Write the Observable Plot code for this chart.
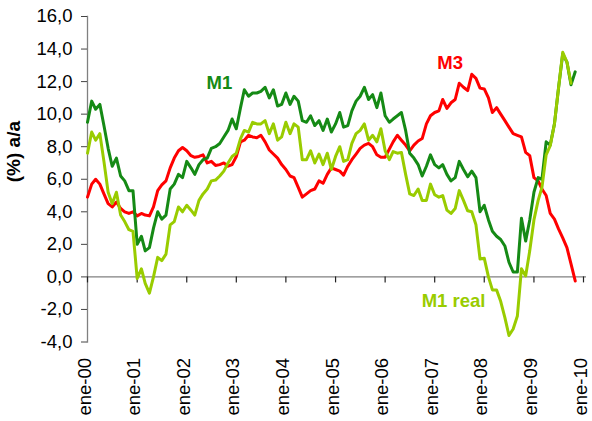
<!DOCTYPE html>
<html>
<head>
<meta charset="utf-8">
<script src="https://cdn.jsdelivr.net/npm/d3@7"></script>
<script src="https://cdn.jsdelivr.net/npm/@observablehq/plot@0.6"></script>
<style>
  html, body { margin: 0; padding: 0; background: #fff; }
  #chart svg { font-family: "Liberation Sans", Arial, sans-serif; }
</style>
</head>
<body>
<div id="chart"></div>
<script>
// Monthly series, starting January 2000
const startYear = 2000;
const m1 = [
  9.5, 10.8, 10.3, 10.6, 9.3, 7.9, 6.8, 7.3, 6.2, 5.9, 5.3, 5.3,
  2.0, 2.5, 1.6, 1.8, 3.0, 4.0, 3.55, 3.8, 5.4, 5.7, 6.3, 6.1,
  7.1, 6.7, 6.3, 6.9, 7.2, 7.3, 7.9, 8.0, 8.2, 8.6, 9.0, 9.7,
  9.1, 10.4, 11.5, 11.1, 11.3, 11.3, 11.4, 11.65, 11.0, 11.5, 10.5, 10.6,
  11.3, 10.6, 11.1, 10.8, 9.6, 9.5, 9.9, 9.3, 9.6, 9.0, 9.7, 8.9,
  9.4, 10.1, 9.2, 9.3, 10.2, 10.8, 11.1, 11.65, 10.9, 11.2, 10.4, 11.3,
  9.9, 9.5, 9.7, 9.9, 10.1, 9.0, 7.6, 7.3, 6.9, 6.2, 6.8, 7.5,
  6.9, 6.7, 6.9, 6.3, 5.9, 6.1, 7.1, 6.6, 6.15, 6.5, 6.1, 4.0,
  4.4, 3.5, 2.8, 2.5, 2.3, 1.9, 0.9, 0.3, 0.3, 3.6, 2.2, 3.5,
  5.2, 6.1, 6.0, 8.3, 8.1, 9.4, 11.6, 13.7, 13.2, 11.8, 12.6
];
const m1real = [
  7.6, 8.9, 8.4, 8.8, 7.1, 5.2, 4.5, 5.2, 3.8, 3.4, 2.9, 2.8,
  -0.1, 0.5, -0.4, -1.0, 0.0, 1.2, 1.0, 1.4, 3.2, 3.4, 4.3, 4.0,
  4.4, 4.1, 3.8, 4.7, 5.1, 5.4, 5.9, 5.95, 6.2, 6.5, 7.0, 7.4,
  7.6, 8.5, 9.0, 8.9, 9.5, 9.4, 9.4, 9.6, 8.8, 9.4, 8.4, 8.6,
  9.5, 8.8, 9.4, 9.2, 7.2, 7.2, 7.75, 7.0, 7.55, 6.9, 7.6, 6.6,
  7.4, 8.0, 7.1, 7.2, 8.2, 8.8, 9.0, 9.4, 8.4, 8.7, 8.3, 9.1,
  7.75, 7.2, 7.7, 7.6, 7.65, 6.3, 5.1, 5.0, 5.4, 4.7, 4.7, 5.7,
  5.05, 4.9, 5.0, 4.1, 3.9, 4.2, 5.3, 4.7, 4.06, 4.0, 3.2, 1.1,
  1.15, 0.0, -0.8, -0.8, -1.5, -2.5, -3.6, -3.2, -2.4, 0.5, 0.06, 1.6,
  3.5, 4.7, 5.5, 7.5, 8.06, 9.4, 11.6, 13.8, 13.2, 11.9
];
const m3 = [
  4.9, 5.7, 6.0, 5.7, 5.1, 4.5, 4.3, 4.6, 4.2, 4.0, 3.9, 4.0,
  3.75, 3.9, 3.8, 3.75, 4.3, 5.3, 5.65, 5.9, 6.7, 7.3, 7.75, 7.95,
  7.75, 7.45, 7.35, 7.4, 7.5, 7.0, 7.1, 6.85, 6.9, 7.0, 6.8, 6.9,
  7.4, 8.3, 8.4, 8.7, 8.6, 8.55, 8.7, 8.3, 7.8, 7.55, 7.3, 6.9,
  6.6, 6.2, 6.1, 5.5, 4.9, 5.1, 5.3, 5.4, 5.9, 5.75, 6.3, 6.7,
  6.6, 6.5, 6.25, 6.8, 7.2, 7.55, 7.9, 8.1, 8.2, 8.0, 7.5, 7.35,
  7.35, 7.85, 8.3, 8.7, 8.4, 8.1, 7.75, 8.1, 8.35, 8.5, 9.4, 9.9,
  10.1, 10.2, 10.9, 10.35, 10.7, 10.9, 11.9, 11.65, 11.45, 12.45, 12.2, 11.6,
  11.55, 11.0, 10.1, 10.4, 10.0, 9.6, 9.2, 8.8, 8.7, 8.6, 7.65, 7.45,
  6.1, 5.9, 5.4, 5.0, 3.9, 3.55, 2.95, 2.4, 1.8, 0.8, -0.25
];

const xTickLabels = ["ene-00","ene-01","ene-02","ene-03","ene-04","ene-05","ene-06","ene-07","ene-08","ene-09","ene-10"];
const yTicks = [-4, -2, 0, 2, 4, 6, 8, 10, 12, 14, 16];

const seriesNames = ["M3", "M1", "M1 real"];
const seriesColors = ["#ff0000", "#158a15", "#99cc00"];

// series labels (month index from Jan 2000, value)
const labelTexts = ["M1", "M3", "M1 real"];
const labelMonth = [31.9, 87.8, 88.6];
const labelValue = [11.9, 13.15, -1.5];
const labelColors = ["#158a15", "#ff0000", "#99cc00"];

const monthDate = (i) => {
  const whole = Math.floor(i);
  const d0 = d3.utcMonth.offset(new Date(Date.UTC(startYear, 0, 1)), whole);
  const d1 = d3.utcMonth.offset(d0, 1);
  return new Date(+d0 + (i - whole) * (d1 - d0));
};

const rows = [];
[[m3, "M3"], [m1, "M1"], [m1real, "M1 real"]].forEach(([arr, name]) => {
  arr.forEach((v, i) => rows.push({series: name, date: monthDate(i), value: v}));
});

const years = xTickLabels.map((_, i) => new Date(Date.UTC(startYear + i, 0, 1)));
const labels = labelTexts.map((t, i) => ({text: t, date: monthDate(labelMonth[i]), value: labelValue[i], color: labelColors[i]}));

const esLocale = d3.formatLocale({decimal: ",", thousands: ".", grouping: [3], currency: ["", " €"], minus: "-"});
const yFmt = esLocale.format(".1f");
const axisColor = "#808080";

const W = 592, H = 421, MT = 16, MB = 79.5;
const yDomain = [-4, 16];
const tickLenValue = 6 * (yDomain[1] - yDomain[0]) / (H - MT - MB); // 6px expressed in y units

const chart = Plot.plot({
  width: W,
  height: H,
  marginTop: MT,
  marginBottom: MB,
  marginLeft: 87,
  marginRight: 9,
  style: {fontFamily: "Liberation Sans, Arial, sans-serif", background: "#fff"},
  x: {type: "utc", domain: [years[0], years[years.length - 1]], axis: null},
  y: {domain: yDomain, axis: null},
  color: {domain: seriesNames, range: seriesColors},
  marks: [
    Plot.frame({anchor: "left", stroke: axisColor, strokeWidth: 1.3}),
    Plot.ruleY([0], {stroke: axisColor, strokeWidth: 1.3, insetRight: -3}),
    Plot.ruleX(years, {x: d => d, y1: 0, y2: -tickLenValue, stroke: "#222", strokeWidth: 1.2}),
    Plot.axisY({ticks: yTicks, tickSize: 6, tickPadding: 9, tickFormat: yFmt, fontSize: 18.5, stroke: "#444", fill: "#000", label: null}),
    Plot.text(years, {x: d => d, frameAnchor: "bottom", rotate: -90, textAnchor: "end", dy: 16, dx: 3,
      text: (d, i) => xTickLabels[i], fontSize: 18.5, fill: "#000"}),
    Plot.text(["(%) a/a"], {frameAnchor: "left", dx: -74, dy: 3, rotate: -90, fontWeight: "bold", fontSize: 19, fill: "#000"}),
    Plot.lineY(rows, {x: "date", y: "value", z: "series", stroke: "series", strokeWidth: 3, strokeLinejoin: "round"}),
    Plot.text(labels, {x: "date", y: "value", text: "text", fill: "color", fontWeight: "bold", fontSize: 18.5})
  ]
});

document.getElementById("chart").appendChild(chart);
</script>
</body>
</html>
